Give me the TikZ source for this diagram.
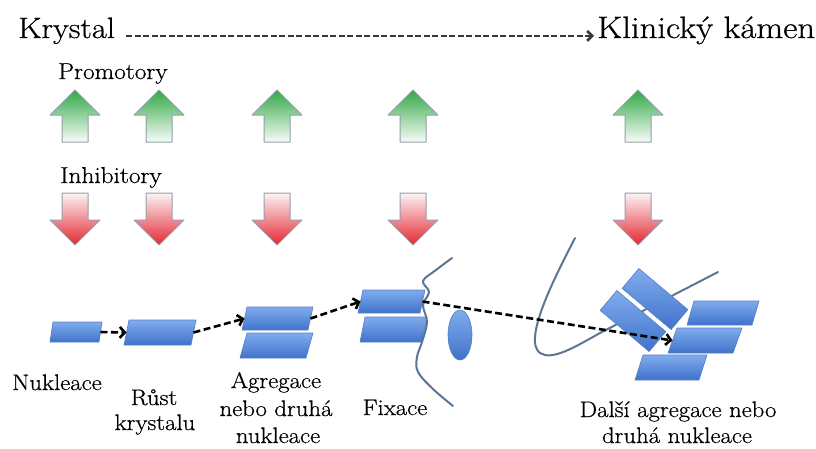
\documentclass[tikz,border=0pt]{standalone}
\usepackage{fontspec}
\setmainfont{Latin Modern Roman}[FakeBold=0.6]
\usetikzlibrary{arrows.meta,shapes.geometric}

\definecolor{xtaltop}{RGB}{128,172,238}
\definecolor{xtalbot}{RGB}{64,114,202}
\definecolor{xtaledge}{RGB}{86,128,196}
\definecolor{fibre}{RGB}{92,118,150}
\definecolor{gTop}{RGB}{48,168,70}
\definecolor{gMid}{RGB}{165,218,175}
\definecolor{gBot}{RGB}{248,252,248}
\definecolor{rTop}{RGB}{252,244,244}
\definecolor{rMid}{RGB}{244,168,170}
\definecolor{rBot}{RGB}{228,38,50}
\definecolor{arredge}{RGB}{150,160,172}
\definecolor{titleline}{RGB}{55,55,55}

\tikzset{
  xtalfill/.style={draw=xtaledge, line width=0.6pt, line join=round,
    top color=xtaltop, bottom color=xtalbot},
  slab/.style={rectangle, inner sep=0pt, minimum width=64pt, minimum height=26pt,
    rotate=-40, xtalfill},
  cyst/.style={ellipse, inner sep=0pt, minimum width=24pt, minimum height=50pt, xtalfill},
  fibreline/.style={draw=fibre, line width=2pt, line cap=round, line join=round},
  flow/.style={draw=black, line width=2.6pt, dash pattern=on 7pt off 3.5pt,
    -{Straight Barb[length=5pt,width=11pt]}},
  titleflow/.style={draw=titleline, line width=2.6pt, dash pattern=on 6pt off 2.5pt,
    -{Straight Barb[length=5pt,width=10pt]}},
  title/.style={anchor=base west, inner sep=0pt, xscale=1.1,
    font=\fontsize{29.5}{36}\selectfont},
  head/.style={anchor=base west, inner sep=0pt, xscale=1.1,
    font=\fontsize{23}{28}\selectfont},
  lbl/.style={anchor=base, inner sep=0pt, xscale=1.1,
    font=\fontsize{22.5}{27}\selectfont},
  promofill/.style={draw=arredge, line width=1pt, line join=round,
    top color=gTop, middle color=gMid, bottom color=gBot},
  inhibfill/.style={draw=arredge, line width=1pt, line join=round,
    top color=rTop, middle color=rMid, bottom color=rBot},
  % slanted crystal: total width, height, slant
  pics/xtal/.style n args={3}{code={
    \path[xtalfill] ({-#1/2+#3},{-#2/2}) -- ({#1/2},{-#2/2}) -- ({#1/2-#3},{#2/2})
      -- ({-#1/2},{#2/2}) -- cycle;
    \coordinate (-w) at ({-#1/2+#3/2},0);
    \coordinate (-e) at ({#1/2-#3/2},0);}},
  pics/promo/.style={code={
    \path[promofill] (0,0) -- (25,25) -- (13,25) -- (13,52) -- (-13,52)
      -- (-13,25) -- (-25,25) -- cycle;}},
  pics/inhib/.style={code={
    \path[inhibfill] (-13,0) -- (13,0) -- (13,27) -- (25,27) -- (0,52)
      -- (-25,27) -- (-13,27) -- cycle;}},
}

\begin{document}
\begin{tikzpicture}[x=1pt,y=-1pt]
\useasboundingbox (0,0) rectangle (816,448);
\fill[white] (0,0) rectangle (816,448);

% heading
\node[title] (kry) at (18,38) {Krystal};
\node[title, xscale=1.02, font=\fontsize{31}{36}\selectfont] (kli) at (597,38) {Klinický kámen};
\draw[titleflow] ([xshift=11pt]kry.mid east) -- ([xshift=-3pt]kli.mid west);

% promoters and inhibitors
\node[head] (promo) at (58,79) {Promotory};
\node[head] (inhib) at (60,183) {Inhibitory};
\foreach \cx in {75,159,277,413,638}{
  \pic at (\cx,90) {promo};
  \pic at (\cx,193) {inhib};
}

% tissue strand behind the stone
\draw[fibreline] (575,238) .. controls (556,275) and (522,340) .. (540,353)
  .. controls (552,361) and (575,347) .. (600,333) -- (718,272);

% crystals
\pic (c1) at (76,332) {xtal={52}{20}{3}};
\pic (c2) at (160,332.5) {xtal={72}{25}{5}};
\pic (c3a) at (277.5,318.5) {xtal={71}{23}{5}};
\pic (c3b) at (276.5,345.5) {xtal={73}{25}{7}};
\pic (c4a) at (391.5,301.5) {xtal={67}{23}{5}};
\pic (c4b) at (393.5,329.5) {xtal={67}{25}{5}};
\node[cyst] (cell) at (460,335) {};

% fixation strand
\draw[fibreline] plot[smooth, tension=0.6] coordinates {(452,258) (436,270) (423,281)
  (429,292) (423,305) (427,322) (422,342) (417,357) (418,372) (433,389) (453,406)};

% stone
\node[slab] (s1) at (655,299) {};
\node[slab] (s2) at (633,321) {};
\pic (r1) at (723,313) {xtal={72}{24}{7}};
\pic (r2) at (705,340.5) {xtal={74}{25}{9}};
\pic (r3) at (671,367.5) {xtal={72}{25}{8}};

% stages
\draw[flow] (c1-e) -- (c2-w);
\draw[flow] (c2-e) -- (c3a-w);
\draw[flow] (c3a-e) -- (c4a-w);
\draw[flow] (c4a-e) -- (r2-w);

% stage labels
\node[lbl] (l1) at (57,390) {Nukleace};
\node[lbl] (l2a) at (154,405) {Růst};
\node[lbl] (l2b) at (155,430) {krystalu};
\node[lbl] (l3a) at (276,388) {Agregace};
\node[lbl] (l3b) at (276,416) {nebo druhá};
\node[lbl] (l3c) at (278,443) {nukleace};
\node[lbl] (l4) at (395,415) {Fixace};
\node[lbl] (l5a) at (678,417) {Další agregace nebo};
\node[lbl] (l5b) at (677,443) {druhá nukleace};
\end{tikzpicture}
\end{document}
